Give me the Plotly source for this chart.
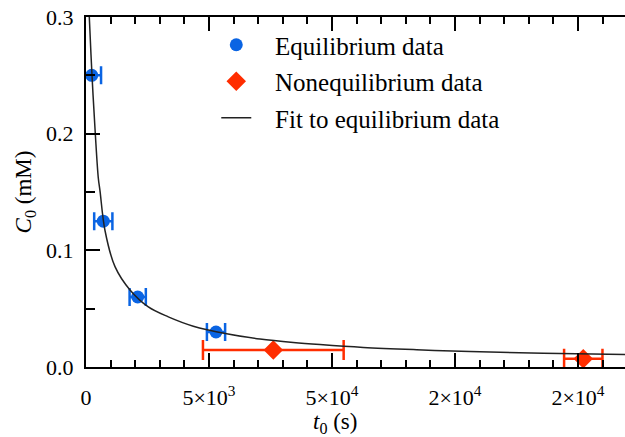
import plotly.graph_objects as go

# Equilibrium data
eq_t = [232, 703, 2102, 5285]
eq_c = [0.25, 0.125, 0.06, 0.03]
eq_terr = [380, 370, 330, 370]

# Nonequilibrium data
neq_t = [7614, 20215]
neq_c = [0.0145, 0.0070]
neq_terr = [2860, 780]

# Fit to equilibrium data
fit_t = [90, 134, 244, 378, 500, 569, 772, 1179, 1789, 2533, 3346, 4362, 5720,
         7073, 8427, 9512, 11272, 13443, 15610, 18589, 21911]
fit_c = [0.320, 0.300, 0.250, 0.200, 0.162, 0.151, 0.117, 0.086, 0.066, 0.0515,
         0.043, 0.035, 0.0285, 0.0240, 0.0210, 0.0192, 0.0168, 0.0148, 0.0132,
         0.0118, 0.0108]

x_tickvals = [0, 5000, 10000, 15000, 20000]
x_ticktext = ["0", "5×10<sup>3</sup>", "5×10<sup>4</sup>", "2×10<sup>4</sup>", "2×10<sup>4</sup>"]
y_tickvals = [0.0, 0.1, 0.2, 0.3]
y_ticktext = ["0.0", "0.1", "0.2", "0.3"]

BLUE = "#0a64e3"
RED = "#ff2d00"
FONT = "Liberation Serif"
NB = "\u00a0\u00a0\u00a0"

fig = go.Figure()
fig.add_trace(go.Scatter(
    x=eq_t, y=eq_c, mode="markers", name=NB + "Equilibrium data", legendgroup="a",
    marker=dict(symbol="circle", size=13, color=BLUE),
    error_x=dict(type="data", array=eq_terr, color=BLUE, thickness=2.5, width=9),
    cliponaxis=False,
))
fig.add_trace(go.Scatter(
    x=neq_t, y=neq_c, mode="markers", name=NB + "Nonequilibrium data", legendgroup="b",
    marker=dict(symbol="diamond", size=15, color=RED),
    error_x=dict(type="data", array=neq_terr, color=RED, thickness=2.5, width=10),
    cliponaxis=False,
))
fig.add_trace(go.Scatter(
    x=fit_t, y=fit_c, mode="lines", name=NB + "Fit to equilibrium data", legendgroup="c",
    line=dict(color="#222222", width=1.5, shape="spline"),
))

fig.update_layout(
    width=625, height=437,
    margin=dict(l=86, r=0, t=17, b=70),
    paper_bgcolor="white", plot_bgcolor="white",
    font=dict(family=FONT, size=21, color="black"),
    legend=dict(x=0.2417, y=0.9857, xanchor="left", yanchor="top",
                font=dict(family=FONT, size=25, color="black"),
                bgcolor="rgba(0,0,0,0)", tracegroupgap=1, traceorder="grouped"),
    showlegend=True,
    xaxis=dict(
        range=[0, 21911], showgrid=False, zeroline=False,
        showline=True, linecolor="black", linewidth=2, mirror="ticks",
        ticks="inside", ticklen=14, tickwidth=1.5, tickcolor="black",
        tickmode="array", tickvals=x_tickvals, ticktext=x_ticktext,
        tickfont=dict(family=FONT, size=22), ticklabelstandoff=10,
        minor=dict(ticks="inside", ticklen=7, tickwidth=1.5, tickcolor="black",
                   tickmode="linear", tick0=0, dtick=1000),
    ),
    yaxis=dict(
        range=[0, 0.3], showgrid=False, zeroline=False,
        showline=True, linecolor="black", linewidth=2,
        ticks="inside", ticklen=14, tickwidth=1.5, tickcolor="black",
        tickmode="array", tickvals=y_tickvals, ticktext=y_ticktext,
        tickfont=dict(family=FONT, size=22), ticklabelstandoff=6,
        minor=dict(ticks="inside", ticklen=9, tickwidth=1.5, tickcolor="black",
                   tickmode="linear", tick0=0, dtick=0.05),
        title=dict(text="<i>C</i><sub>0</sub> (mM)", font=dict(family=FONT, size=23), standoff=8),
    ),
    annotations=[dict(
        text="<i>t</i><sub>0</sub> (s)", xref="paper", yref="paper",
        x=(335 - 86) / 539, y=-0.2, xanchor="center", yanchor="bottom", yshift=-2,
        showarrow=False, font=dict(family=FONT, size=23),
    )],
)

fig.write_html("out.html")
